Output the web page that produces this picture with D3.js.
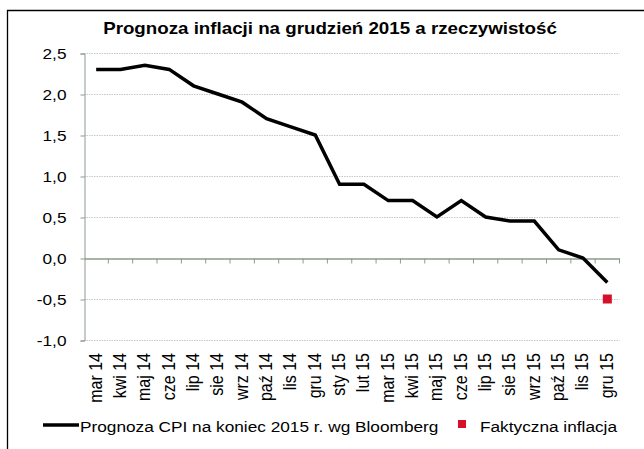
<!DOCTYPE html>
<html><head><meta charset="utf-8">
<script src="https://cdn.jsdelivr.net/npm/d3@7"></script>
<style>body{margin:0;background:#fff}svg{display:block}text{font-family:"Liberation Sans",Arial,sans-serif}</style>
</head><body><svg id="c" width="644" height="449"></svg>
<script>
const categories = ["mar 14","kwi 14","maj 14","cze 14","lip 14","sie 14","wrz 14","paź 14","lis 14","gru 14","sty 15","lut 15","mar 15","kwi 15","maj 15","cze 15","lip 15","sie 15","wrz 15","paź 15","lis 15","gru 15"];
const forecast = [2.3,2.3,2.35,2.3,2.1,2.0,1.9,1.7,1.6,1.5,0.9,0.9,0.7,0.7,0.5,0.7,0.5,0.45,0.45,0.1,0.0,-0.3];
const actual = [{cat:"gru 15", value:-0.5}];
const yTicks = [-1.0,-0.5,0.0,0.5,1.0,1.5,2.0,2.5];
const title = "Prognoza inflacji na grudzień 2015 a rzeczywistość";
const seriesNames = ["Prognoza CPI na koniec 2015 r. wg Bloomberg","Faktyczna inflacja"];

const SX = 1.19; // horizontal text stretch seen in the reference
const svg = d3.select("#c");
const L = 84, R = 619.5, T = 53, B = 340;
const x = d3.scaleBand().domain(categories).range([L, R]);
const y = d3.scaleLinear().domain([-1, 2.5]).range([B, T]);
const fmt = d => d3.format(".1f")(d).replace(".", ",").replace("−","-");

// border (left & top)
svg.append("path").attr("d", `M7.5,449 V10.5 H644`).attr("fill","none").attr("stroke","#000").attr("stroke-width",1.3);

// title
svg.append("text").attr("transform", `translate(330,34) scale(1.15,1)`).attr("text-anchor","middle")
  .attr("font-size", 16.3).attr("font-weight","bold").text(title);

// gridlines
svg.append("g").selectAll("line").data(yTicks.filter(d => d !== 0)).join("line")
  .attr("x1", L).attr("x2", R).attr("y1", d => y(d)+0.5).attr("y2", d => y(d)+0.5)
  .attr("stroke", "#c8c8c8").attr("stroke-width", 1).attr("stroke-dasharray", "1.5,1");

// y axis
const ya = svg.append("g").attr("transform", `translate(${L+0.5},0.5)`)
  .call(d3.axisLeft(y).tickValues(yTicks).tickFormat(fmt).tickSize(4).tickPadding(14));
ya.select(".domain").attr("stroke", "#8c9a8c");
ya.selectAll(".tick line").attr("stroke", "#8c9a8c");
ya.selectAll(".tick text").each(function() {
  const t = d3.select(this);
  const xx = +t.attr("x");
  t.attr("x", 0).attr("transform", `translate(${xx},0) scale(${SX},1)`);
}).attr("font-size", 14.5).attr("fill", "#000").attr("font-family", '"Liberation Sans",Arial,sans-serif');

// x axis at 0
const xa = svg.append("g").attr("transform", `translate(0,${y(0)+0.5})`)
  .call(d3.axisBottom(x).tickSize(0).tickFormat(""));
xa.select(".domain").attr("stroke", "#8c9a8c").attr("stroke-width", 1.5);
xa.selectAll(".tick").remove();
const bounds = categories.map((c,i) => L + i*x.bandwidth()).concat([R]);
xa.selectAll("line.t").data(bounds.slice(1)).join("line").attr("class","t")
  .attr("x1", d => d).attr("x2", d => d).attr("y1", 0).attr("y2", 5)
  .attr("stroke", "#8c9a8c").attr("stroke-width", 1);

// x labels
svg.append("g").selectAll("text").data(categories).join("text")
  .attr("transform", d => `translate(${x(d)+x.bandwidth()/2+5.5},${B+13}) scale(${SX},1) rotate(-90)`)
  .attr("text-anchor", "end").attr("font-size", 16).text(d => d);

// line
const line = d3.line().x((d,i) => x(categories[i]) + x.bandwidth()/2).y(d => y(d));
svg.append("path").datum(forecast).attr("d", line).attr("fill","none")
  .attr("stroke","#000").attr("stroke-width", 3.5).attr("stroke-linejoin","miter");

// actual
svg.append("g").selectAll("rect").data(actual).join("rect")
  .attr("x", d => x(d.cat) + x.bandwidth()/2 - 4.5).attr("y", d => y(d.value) - 4.5)
  .attr("width", 9).attr("height", 9).attr("fill", "#d7102a");

// legend
const lg = svg.append("g");
lg.append("line").attr("x1", 43).attr("x2", 79).attr("y1", 425).attr("y2", 425).attr("stroke","#000").attr("stroke-width",3.5);
lg.append("text").attr("transform", `translate(80,431.5) scale(${SX},1)`).attr("font-size", 14.5).text(seriesNames[0]);
lg.append("rect").attr("x", 458).attr("y", 420).attr("width", 8).attr("height", 8).attr("fill","#d7102a");
lg.append("text").attr("transform", `translate(480,431.5) scale(${SX},1)`).attr("font-size", 14.5).text(seriesNames[1]);
</script></body></html>
